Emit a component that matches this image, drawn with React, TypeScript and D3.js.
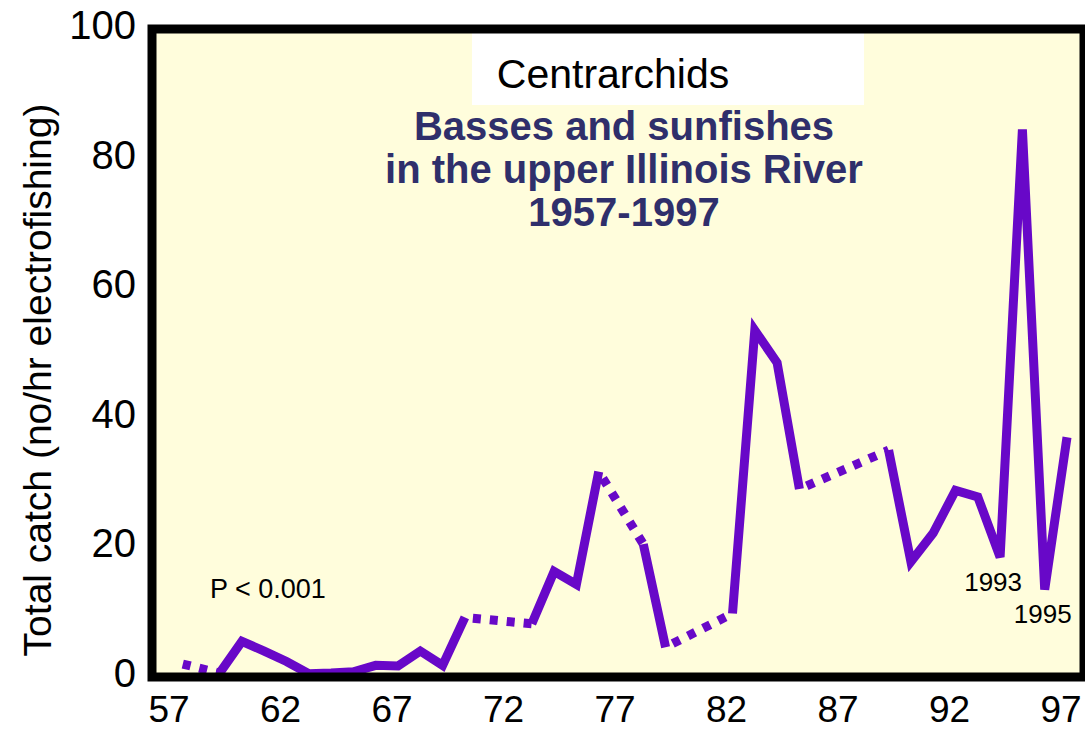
import React, { useEffect, useRef } from 'react'
import * as d3 from 'd3'

// catch per hour electrofishing, null = no sampling that year
const years: number[] = d3.range(1957, 1998)
const catchValues: (number | null)[] = [
  2.3, null, 0.6, 5.5, 4.0, 2.4, 0.5, 0.6, 0.8, 1.8,
  1.7, 4.0, 1.8, 9.2, null, null, 8.2, 16.3, 14.3, 31.7,
  null, 20.5, 4.6, null, null, 9.8, 53.5, 48.5, 29.0, null,
  null, null, 35.0, 17.8, 22.2, 28.8, 27.8, 18.5, 84.5, 13.5,
  37.0
]
const xTicks: number[] = [1957, 1962, 1967, 1972, 1977, 1982, 1987, 1992, 1997]
const yTicks: number[] = [0, 20, 40, 60, 80, 100]
const titleLines: string[] = ['Basses and sunfishes', 'in the upper Illinois River', '1957-1997']
const annotations = [
  { label: '1993', year: 1994, dx: -7, dy: 34 },
  { label: '1995', year: 1996, dx: -2, dy: 33 }
]

const FONT = '"Liberation Sans", Arial, sans-serif'
const PURPLE = '#6808c8'

function App() {
  const ref = useRef<SVGSVGElement | null>(null)

  useEffect(() => {
    const svg = d3.select(ref.current)
    svg.selectAll('*').remove()

    const x = d3.scaleLinear().domain([1957, 1997]).range([175, 1067])
    const y = d3.scaleLinear().domain([0, 100]).range([677, 29])
    const left = x(1957) - 23

    // plot background
    svg.append('rect')
      .attr('x', left).attr('y', y(100))
      .attr('width', 1084 - left).attr('height', y(0) - y(100))
      .attr('fill', '#fffddc')

    // title box
    svg.append('rect')
      .attr('x', 472).attr('y', 33).attr('width', 392).attr('height', 72)
      .attr('fill', '#ffffff')
    svg.append('text')
      .attr('x', 613).attr('y', 88)
      .attr('text-anchor', 'middle')
      .style('font-family', FONT).style('font-size', '41px')
      .attr('fill', '#000')
      .text('Centrarchids')

    svg.append('g')
      .selectAll('text')
      .data(titleLines)
      .join('text')
      .attr('x', 624)
      .attr('y', (d, i) => 140 + i * 43)
      .attr('text-anchor', 'middle')
      .style('font-family', FONT).style('font-size', '40px').style('font-weight', 'bold')
      .attr('fill', '#2f2f6b')
      .text(d => d)

    const pts = years.map((yr, i) => ({ yr, v: catchValues[i] }))

    // dotted segments across missing years
    const gaps: { a: { yr: number, v: number }, b: { yr: number, v: number } }[] = []
    let prev: { yr: number, v: number } | null = null
    pts.forEach(p => {
      if (p.v == null) return
      const cur = { yr: p.yr, v: p.v }
      if (prev && cur.yr - prev.yr > 1) gaps.push({ a: prev, b: cur })
      prev = cur
    })

    const line = d3.line<{ yr: number, v: number | null }>()
      .defined(d => d.v != null)
      .x(d => x(d.yr))
      .y(d => y(d.v as number))

    svg.append('path')
      .datum(pts)
      .attr('fill', 'none')
      .attr('stroke', PURPLE)
      .attr('stroke-width', 9)
      .attr('stroke-linejoin', 'miter')
      .attr('d', line)

    svg.selectAll('path.gap')
      .data(gaps)
      .join('path')
      .attr('class', 'gap')
      .attr('fill', 'none')
      .attr('stroke', PURPLE)
      .attr('stroke-width', 9)
      .attr('stroke-dasharray', '8 9')
      .attr('stroke-dashoffset', -8)
      .attr('d', d => line([d.a, d.b]))

    // frame on top
    svg.append('rect')
      .attr('x', left).attr('y', y(100))
      .attr('width', 1084 - left).attr('height', y(0) - y(100))
      .attr('fill', 'none')
      .attr('stroke', '#000')
      .attr('stroke-width', 9)

    // annotations
    svg.append('text')
      .attr('x', 210).attr('y', 598)
      .style('font-family', FONT).style('font-size', '27px')
      .text('P < 0.001')

    svg.selectAll('text.ann')
      .data(annotations)
      .join('text')
      .attr('class', 'ann')
      .attr('x', d => x(d.year) + d.dx)
      .attr('y', d => y(catchValues[d.year - 1957] as number) + d.dy)
      .attr('text-anchor', 'middle')
      .style('font-family', FONT).style('font-size', '26px')
      .text(d => d.label)

    // tick labels
    svg.append('g')
      .selectAll('text')
      .data(yTicks)
      .join('text')
      .attr('x', 136)
      .attr('y', d => y(d) + 10)
      .attr('text-anchor', 'end')
      .style('font-family', FONT).style('font-size', '40px')
      .text(d => d)

    svg.append('g')
      .selectAll('text')
      .data(xTicks)
      .join('text')
      .attr('x', d => x(d) - 6)
      .attr('y', 722)
      .attr('text-anchor', 'middle')
      .style('font-family', FONT).style('font-size', '37px')
      .text(d => String(d).slice(2))

    svg.append('text')
      .attr('transform', `translate(51,380) rotate(-90)`)
      .attr('text-anchor', 'middle')
      .style('font-family', FONT).style('font-size', '39px')
      .text('Total catch (no/hr electrofishing)')
  }, [])

  return (
    <svg ref={ref} width={1085} height={733}
      style={{ position: 'absolute', left: 0, top: 0, background: '#fff' }} />
  )
}

export default App
